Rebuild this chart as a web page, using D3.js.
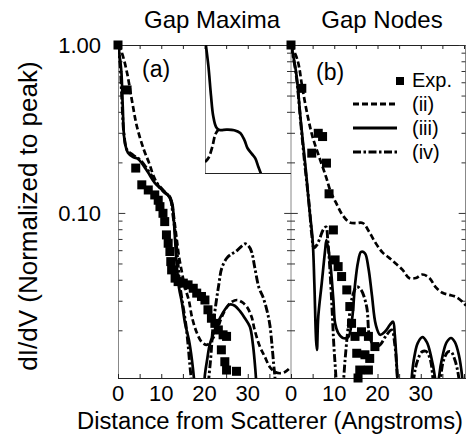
<!DOCTYPE html>
<html><head><meta charset="utf-8">
<script src="https://cdn.jsdelivr.net/npm/d3@7"></script>
<style>
body{margin:0;background:#fff}
svg{display:block}
text{font-family:"Liberation Sans",Arial,Helvetica,sans-serif;fill:#000}
</style>
</head><body>
<svg id="c" width="466" height="447"></svg>
<script>
// ---------- DATA (x: Angstroms, y: dI/dV normalized) ----------
const panelTitles = ["Gap Maxima", "Gap Nodes"];
const panelLabels = ["(a)", "(b)"];
const xTickLabels = [0, 10, 20, 30];
const yTickLabels = [{v: 1.0, t: "1.00"}, {v: 0.1, t: "0.10"}];
const legendNames = ["Exp.", "(ii)", "(iii)", "(iv)"];

const expA = [[0,1.0],[2.1,0.54],[4.1,0.185],[5.5,0.147],[7.0,0.137],[8.5,0.128],[9.3,0.119],[9.7,0.109],[10.4,0.0995],[10.8,0.0888],[11.2,0.074],[11.6,0.066],[12.0,0.0589],[12.2,0.0513],[12.4,0.0458],[13.2,0.0409],[13.9,0.039],[15.1,0.0382],[16.2,0.0373],[17.4,0.0356],[18.2,0.0333],[19.3,0.0318],[20.1,0.0303],[20.8,0.0265],[21.6,0.0236],[22.4,0.022],[23.2,0.0201],[24.3,0.0188],[25.1,0.0184],[23.9,0.0153],[24.7,0.013],[25.1,0.0116],[27.4,0.0114]];
const iiA = [[0,1.0],[0.9,0.896],[2.1,0.681],[3.2,0.471],[4.4,0.325],[6.0,0.237],[7.2,0.198],[8.3,0.164],[9.5,0.143],[10.9,0.131],[12.0,0.125],[12.7,0.104],[13.2,0.083],[13.6,0.069],[14.1,0.055],[14.8,0.044],[15.5,0.036],[16.4,0.030],[17.1,0.024],[18.2,0.0194],[19.4,0.017],[20.6,0.0164],[21.7,0.0175],[22.9,0.0201],[24.0,0.024],[25.2,0.0276],[26.3,0.0295],[27.5,0.0303],[28.6,0.0295],[29.8,0.0276],[30.9,0.024],[31.6,0.0201],[32.8,0.016],[33.9,0.014],[35.1,0.0121],[36.3,0.0113],[37.4,0.0111],[38.6,0.0113],[40.0,0.0121]];
const iiiA = [[0,1.0],[0.5,0.814],[0.8,0.681],[1.1,0.428],[1.5,0.272],[2.3,0.228],[3.5,0.215],[4.6,0.210],[5.5,0.198],[6.9,0.175],[8.5,0.151],[10.2,0.137],[11.5,0.128],[12.5,0.115],[12.9,0.091],[13.2,0.069],[13.6,0.048],[14.1,0.036],[14.8,0.029],[15.5,0.022],[16.4,0.0175],[17.1,0.0133],[17.6,0.0101],[18.2,0.006],[19.2,0.005],[20.1,0.0109],[20.6,0.0133],[21.2,0.0164],[22.4,0.0201],[23.6,0.0237],[24.7,0.0265],[25.9,0.0285],[27.0,0.028],[28.2,0.026],[29.3,0.0237],[30.5,0.021],[31.2,0.0164],[31.6,0.013],[31.9,0.0104],[32.5,0.005]];
const ivA = [[0,1.0],[0.5,0.76],[0.9,0.471],[1.4,0.291],[2.1,0.237],[3.5,0.221],[5.1,0.207],[6.9,0.18],[8.8,0.153],[10.4,0.137],[12.0,0.123],[12.7,0.0973],[13.4,0.069],[13.9,0.049],[14.3,0.0373],[15.0,0.0283],[15.7,0.0216],[16.2,0.0164],[16.6,0.0125],[16.9,0.0104],[17.5,0.005],[19.8,0.005],[21.0,0.0104],[21.5,0.0143],[21.9,0.0201],[22.6,0.0283],[23.3,0.0373],[24.0,0.047],[25.2,0.054],[26.3,0.057],[27.3,0.059],[28.6,0.0635],[29.4,0.0655],[30.2,0.0635],[30.9,0.0586],[31.6,0.0477],[32.6,0.0358],[33.5,0.0317],[34.4,0.0265],[35.1,0.0216],[35.6,0.0164],[36.0,0.0125],[36.3,0.0104],[36.8,0.005]];

const expB = [[0,1.0],[2.5,0.552],[4.8,0.227],[6.3,0.298],[7.3,0.285],[8.2,0.198],[8.8,0.130],[9.8,0.0792],[10.2,0.0525],[10.9,0.0479],[11.7,0.0418],[12.9,0.0348],[13.6,0.0277],[14.0,0.022],[14.8,0.0184],[16.3,0.0196],[17.9,0.0184],[19.4,0.016],[15.2,0.0146],[17.1,0.0143],[18.2,0.0136],[15.9,0.0116],[17.9,0.0116],[15.5,0.0104]];
const iiB = [[0,1.0],[1.5,0.814],[2.7,0.540],[3.9,0.373],[5.0,0.283],[6.5,0.216],[8.1,0.164],[9.2,0.133],[10.4,0.115],[11.9,0.0973],[13.5,0.088],[15.0,0.087],[16.6,0.087],[18.1,0.077],[19.6,0.066],[21.2,0.058],[22.7,0.054],[24.2,0.050],[25.8,0.0458],[27.3,0.041],[28.9,0.041],[30.4,0.043],[32.0,0.041],[33.5,0.036],[35.0,0.0335],[36.6,0.0325],[38.1,0.0317],[39.7,0.0295],[40.5,0.028]];
const iiiB = [[0,1.0],[1.2,0.681],[2.3,0.344],[3.5,0.173],[4.2,0.109],[5.0,0.069],[5.4,0.038],[5.8,0.0175],[6.0,0.0153],[6.3,0.024],[7.1,0.038],[7.9,0.0602],[8.2,0.069],[9.0,0.0525],[9.8,0.0303],[10.2,0.022],[10.9,0.0193],[12.0,0.018],[13.2,0.0182],[14.1,0.0231],[14.8,0.0373],[15.5,0.051],[16.2,0.0586],[17.1,0.0575],[17.9,0.047],[18.7,0.0325],[19.6,0.0216],[20.6,0.0188],[21.7,0.0196],[22.9,0.0216],[23.6,0.0225],[24.0,0.0188],[24.6,0.0104],[25.2,0.005],[27.4,0.005],[27.9,0.0104],[28.6,0.0143],[29.3,0.0168],[30.4,0.0182],[31.4,0.017],[32.3,0.0143],[33.3,0.0104],[33.8,0.006],[34.2,0.0104],[35.1,0.0143],[36.0,0.017],[37.0,0.018],[37.9,0.017],[38.8,0.0143],[39.6,0.0104],[40.2,0.006]];
const ivB = [[0,1.0],[1.2,0.663],[2.3,0.334],[3.2,0.193],[4.2,0.112],[4.8,0.074],[5.3,0.062],[6.0,0.0645],[6.7,0.071],[7.4,0.079],[8.1,0.0825],[8.5,0.069],[9.0,0.0458],[9.5,0.0265],[9.9,0.0164],[10.4,0.0104],[11.0,0.005],[11.6,0.005],[12.2,0.0104],[12.7,0.0153],[13.4,0.0231],[14.1,0.031],[15.2,0.0363],[16.2,0.0348],[17.5,0.0276],[18.2,0.0182],[19.4,0.016],[20.6,0.0164],[22.1,0.0188],[23.3,0.0201],[24.0,0.0164],[24.6,0.0104],[25.2,0.005],[27.8,0.005],[28.4,0.0104],[29.3,0.0133],[30.3,0.0149],[31.2,0.015],[32.1,0.0137],[32.8,0.0104],[33.3,0.006],[34.0,0.006],[34.6,0.0104],[35.3,0.0133],[36.3,0.0149],[37.0,0.0149],[37.9,0.0133],[38.8,0.0104],[39.4,0.006]];

// inset (magnified view, its own units)
const insetSolid = [[0.1,1.0],[0.4,0.68],[0.7,0.40],[0.95,0.28],[1.3,0.228],[1.7,0.217],[2.5,0.218],[3.4,0.216],[4.1,0.205],[4.6,0.18],[4.95,0.156],[5.45,0.141],[5.85,0.13],[6.2,0.112],[6.5,0.099]];
const insetDashed = [[0,0.122],[0.4,0.131],[0.85,0.16],[1.2,0.2],[1.55,0.218]];

// ---------- LAYOUT ----------
const svg = d3.select("#c");
const T = 45, B = 378, RIGHT = 466;
const y = d3.scaleLog().domain([0.0104, 1]).range([B, T]);
const xA = d3.scaleLinear().domain([0, 40]).range([118, 291]);
const xB = d3.scaleLinear().domain([0, 40]).range([291, 464]);
const ix = d3.scaleLinear().domain([0, 10]).range([205, 291]);
const iy = d3.scaleLog().domain([0.1, 1]).range([173, 45]);

const defs = svg.append("defs");
defs.append("clipPath").attr("id","clipA").append("rect").attr("x",118).attr("y",T).attr("width",173).attr("height",B-T);
defs.append("clipPath").attr("id","clipB").append("rect").attr("x",291).attr("y",T).attr("width",RIGHT-291).attr("height",B-T);
defs.append("clipPath").attr("id","clipI").append("rect").attr("x",205).attr("y",T).attr("width",86).attr("height",173-T);

const styles = {
  ii:  {dash: "6,3", w: 2.7},
  iii: {dash: null, w: 2.7},
  iv:  {dash: "8,2.5,2.5,2.5", w: 2.9}
};

function drawLine(g, data, xs, ys, st) {
  const line = d3.line().x(d => xs(d[0])).y(d => ys(Math.max(d[1], 1e-3))).curve(d3.curveCatmullRom.alpha(0.5));
  g.append("path").datum(data).attr("d", line).attr("fill","none").attr("stroke","#000")
   .attr("stroke-width", st.w).attr("stroke-dasharray", st.dash).attr("stroke-linejoin","round");
}

// frames
const frame = svg.append("g");
frame.append("line").attr("x1",118).attr("x2",RIGHT).attr("y1",T+0.5).attr("y2",T+0.5).attr("stroke","#222");
frame.append("line").attr("x1",118).attr("x2",RIGHT).attr("y1",B+0.5).attr("y2",B+0.5).attr("stroke","#222");
[118.5, 291, RIGHT-0.5].forEach(xx => frame.append("line").attr("x1",xx).attr("x2",xx).attr("y1",T).attr("y2",B).attr("stroke","#888"));

// ticks
const xMinor = d3.range(0, 41, 5);
const yMinor = [];
[0.01, 0.1].forEach(dec => { for (let k = 2; k <= 9; k++) yMinor.push(k * dec); });
const yMajor = yTickLabels.map(d => d.v);

function xTicks(xs) {
  svg.append("g").attr("transform",`translate(0,${B})`)
    .call(d3.axisBottom(xs).tickValues(xMinor).tickSize(-4).tickFormat(""))
    .call(g => { g.select(".domain").remove(); g.selectAll("line").attr("stroke","#222"); });
  svg.append("g").attr("transform",`translate(0,${T})`)
    .call(d3.axisTop(xs).tickValues(xMinor).tickSize(-4).tickFormat(""))
    .call(g => { g.select(".domain").remove(); g.selectAll("line").attr("stroke","#222"); });
}
xTicks(xA); xTicks(xB);

function yTicks(xpos, size) {
  svg.append("g").attr("transform",`translate(${xpos},0)`)
    .call(d3.axisLeft(y).tickValues(yMinor).tickSize(size).tickFormat(""))
    .call(g => { g.select(".domain").remove(); g.selectAll("line").attr("stroke","#333"); });
  svg.append("g").attr("transform",`translate(${xpos},0)`)
    .call(d3.axisLeft(y).tickValues(yMajor).tickSize(size * 1.7).tickFormat(""))
    .call(g => { g.select(".domain").remove(); g.selectAll("line").attr("stroke","#333"); });
}
yTicks(118.5, -4);
yTicks(291, -4); yTicks(291, 4);
yTicks(RIGHT - 0.5, 4);

// inset box
svg.append("line").attr("x1",205.5).attr("x2",205.5).attr("y1",T).attr("y2",173).attr("stroke","#888");
svg.append("line").attr("x1",205).attr("x2",291).attr("y1",173.5).attr("y2",173.5).attr("stroke","#222");

// curves
const gA = svg.append("g").attr("clip-path","url(#clipA)");
drawLine(gA, iiA, xA, y, styles.ii);
drawLine(gA, iiiA, xA, y, styles.iii);
drawLine(gA, ivA, xA, y, styles.iv);
const gB = svg.append("g").attr("clip-path","url(#clipB)");
drawLine(gB, iiB, xB, y, styles.ii);
drawLine(gB, iiiB, xB, y, styles.iii);
drawLine(gB, ivB, xB, y, styles.iv);
const gI = svg.append("g").attr("clip-path","url(#clipI)");
drawLine(gI, insetSolid, ix, iy, styles.iii);
drawLine(gI, insetDashed, ix, iy, {dash: "7,3", w: 2.7});

// experimental squares
const S = 9;
function squares(data, xs) {
  svg.append("g").selectAll("rect").data(data).join("rect")
    .attr("x", d => xs(d[0]) - S/2).attr("y", d => y(d[1]) - S/2)
    .attr("width", S).attr("height", S).attr("fill","#000");
}
squares(expA, xA); squares(expB, xB);

// tick labels
svg.append("g").selectAll("text").data(yTickLabels).join("text")
  .attr("x", 101).attr("y", d => y(d.v) + 8).attr("text-anchor","end")
  .attr("font-size", 22).text(d => d.t);
[xA, xB].forEach(xs => {
  svg.append("g").selectAll("text").data(xTickLabels).join("text")
    .attr("x", d => xs(d)).attr("y", 401).attr("text-anchor","middle")
    .attr("font-size", 22).text(d => d);
});

// titles
svg.append("text").attr("x", 212).attr("y", 28).attr("text-anchor","middle").attr("font-size",24).text(panelTitles[0]);
svg.append("text").attr("x", 382).attr("y", 28).attr("text-anchor","middle").attr("font-size",24).text(panelTitles[1]);
svg.append("text").attr("x", 142).attr("y", 77).attr("font-size",23).text(panelLabels[0]);
svg.append("text").attr("x", 316).attr("y", 80).attr("font-size",23).text(panelLabels[1]);

// axis titles
svg.append("text").attr("x", 270).attr("y", 429).attr("text-anchor","middle").attr("font-size",23.5)
  .attr("textLength", 386).attr("lengthAdjust","spacingAndGlyphs")
  .text("Distance from Scatterer (Angstroms)");
svg.append("text").attr("transform","translate(37,216) rotate(-90)").attr("text-anchor","middle")
  .attr("font-size",26).text("dI/dV (Normalized to peak)");

// legend
const lg = svg.append("g");
lg.append("rect").attr("x", 396).attr("y", 77).attr("width", 8).attr("height", 8).attr("fill","#000");
const legY = [86, 110, 134, 158];
lg.append("text").attr("x", 412).attr("y", legY[0] + 1).attr("font-size", 20).text(legendNames[0]);
const legStyles = [styles.ii, styles.iii, styles.iv];
[1,2,3].forEach(i => {
  const ly = legY[i] - 6;
  lg.append("line").attr("x1", 353).attr("x2", 397).attr("y1", ly).attr("y2", ly)
    .attr("stroke","#000").attr("stroke-width", 3).attr("stroke-dasharray", legStyles[i-1].dash);
  lg.append("text").attr("x", 412).attr("y", legY[i] + 1).attr("font-size", 20).text(legendNames[i]);
});
</script>
</body></html>
